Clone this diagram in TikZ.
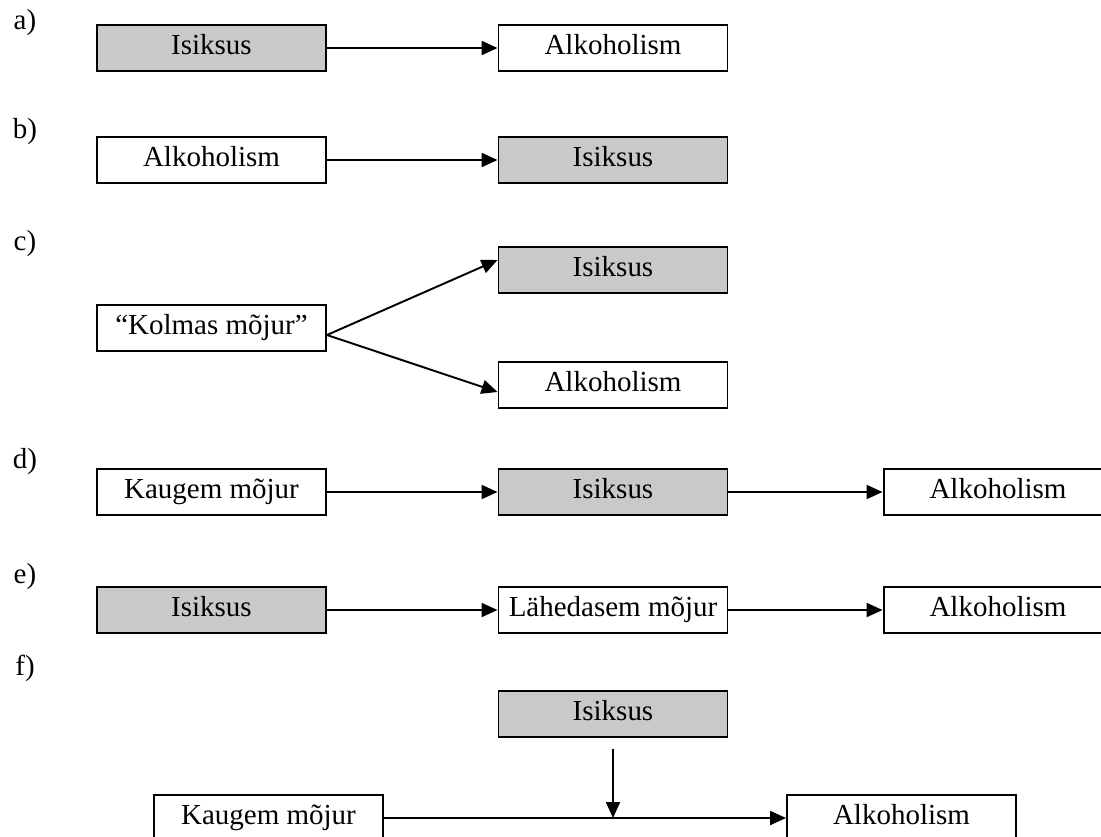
\documentclass[tikz,border=0pt]{standalone}
\usepackage{fontspec}
\setmainfont{Liberation Serif}
\usetikzlibrary{arrows.meta}
\definecolor{raster}{gray}{0.79}
\tikzset{
  kast/.style={draw, line width=1.1pt, minimum width=4.58cm, minimum height=0.92cm,
    inner sep=0pt, text height=0.4cm, text depth=0.13cm, font=\fontsize{16.5}{19}\selectfont},
  hall/.style={kast, fill=raster},
  nool/.style={line width=1.1pt, -{Triangle[length=0.32cm,width=0.28cm]}},
  tahis/.style={font=\fontsize{16.5}{19}\selectfont}
}

\begin{document}
\begin{tikzpicture}[x=0.02cm, y=-0.02cm]
    \useasboundingbox (0,0) rectangle (1101,836);

    % Tahised
    \foreach \y/\lbl/\nm in {23/a)/ta, 132/b)/tb, 244/c)/tc, 462/d)/td, 577/e)/te, 668/f)/tf} {
        \node[tahis] (\nm) at (25,\y) {\lbl};
    }

    % a)
    \node[hall] (isiA) at (211.5,48) {Isiksus};
    \node[kast] (alkA) at (613,48) {Alkoholism};
    \draw[nool] (isiA.east) -- (alkA.west);

    % b)
    \node[kast] (alkB) at (211.5,160) {Alkoholism};
    \node[hall] (isiB) at (613,160) {Isiksus};
    \draw[nool] (alkB.east) -- (isiB.west);

    % c)
    \node[hall] (isiC) at (613,270) {Isiksus};
    \node[kast] (kolm) at (211.5,328) {“Kolmas mõjur”};
    \node[kast] (alkC) at (613,385) {Alkoholism};
    \draw[nool] ([yshift=-0.14cm]kolm.east) -- ([yshift=0.2cm]isiC.west);
    \draw[nool] ([yshift=-0.14cm]kolm.east) -- ([yshift=-0.14cm]alkC.west);

    % d)
    \node[kast] (kaugD) at (211.5,492) {Kaugem mõjur};
    \node[hall] (isiD) at (613,492) {Isiksus};
    \node[kast] (alkD) at (998,492) {Alkoholism};
    \draw[nool] (kaugD.east) -- (isiD.west);
    \draw[nool] (isiD.east) -- (alkD.west);

    % e)
    \node[hall] (isiE) at (211.5,610) {Isiksus};
    \node[kast] (lahE) at (613,610) {Lähedasem mõjur};
    \node[kast] (alkE) at (998,610) {Alkoholism};
    \draw[nool] (isiE.east) -- (lahE.west);
    \draw[nool] (lahE.east) -- (alkE.west);

    % f)
    \node[hall] (isiF) at (613,714) {Isiksus};
    \node[kast] (kaugF) at (268.5,818) {Kaugem mõjur};
    \node[kast] (alkF) at (901.5,818) {Alkoholism};
    \draw[nool] (kaugF.east) -- (alkF.west);
    \draw[nool] ([yshift=-0.22cm]isiF.south) -- (isiF.south |- kaugF.east);
\end{tikzpicture}
\end{document}
